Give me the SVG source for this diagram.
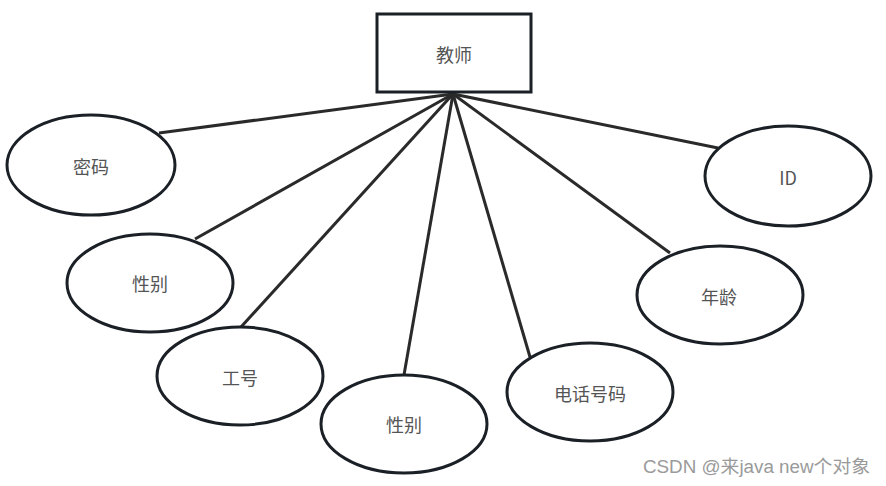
<svg xmlns="http://www.w3.org/2000/svg" width="886" height="486" viewBox="0 0 886 486">
<style>
.shape{fill:#ffffff;stroke:#1b2026;stroke-width:3}
.edge{stroke:#2a2a2a;stroke-width:3;fill:none}
.lbl{font-family:"Noto Sans CJK SC","Liberation Sans",sans-serif;font-size:18px;fill:#555555;text-anchor:middle;dominant-baseline:central}
.wm{font-family:"Liberation Sans","Noto Sans CJK SC",sans-serif;font-size:18px;fill:#9a9a9a}
</style>
<rect width="886" height="486" fill="#ffffff"/>
<g id="connectors">
<line class="edge" x1="453" y1="94" x2="159" y2="133"/>
<line class="edge" x1="453" y1="94" x2="195" y2="239"/>
<line class="edge" x1="453" y1="94" x2="241" y2="327"/>
<line class="edge" x1="453" y1="94" x2="404" y2="375"/>
<line class="edge" x1="453" y1="94" x2="530" y2="357"/>
<line class="edge" x1="453" y1="94" x2="670" y2="253"/>
<line class="edge" x1="453" y1="94" x2="718" y2="148"/>
</g>
<g id="teacher">
<rect class="shape" x="377" y="14" width="154" height="78"/>
<text class="lbl" x="454" y="54">教师</text>
</g>
<g id="password">
<ellipse class="shape" cx="91" cy="165" rx="84" ry="50"/>
<text class="lbl" x="91" y="166">密码</text>
</g>
<g id="gender1">
<ellipse class="shape" cx="150" cy="283" rx="83" ry="49"/>
<text class="lbl" x="150" y="283">性别</text>
</g>
<g id="jobno">
<ellipse class="shape" cx="240" cy="376" rx="83" ry="49"/>
<text class="lbl" x="240" y="377">工号</text>
</g>
<g id="gender2">
<ellipse class="shape" cx="404" cy="424" rx="83" ry="49"/>
<text class="lbl" x="404" y="424">性别</text>
</g>
<g id="phone">
<ellipse class="shape" cx="590" cy="392" rx="83" ry="49"/>
<text class="lbl" x="590" y="393">电话号码</text>
</g>
<g id="age">
<ellipse class="shape" cx="720" cy="295" rx="83" ry="49"/>
<text class="lbl" x="719" y="296">年龄</text>
</g>
<g id="id">
<ellipse class="shape" cx="788" cy="176" rx="83" ry="50"/>
<text class="lbl" x="788" y="177">ID</text>
</g>
<text class="wm" x="643" y="473" textLength="227" lengthAdjust="spacingAndGlyphs">CSDN @来java new个对象</text>
</svg>
